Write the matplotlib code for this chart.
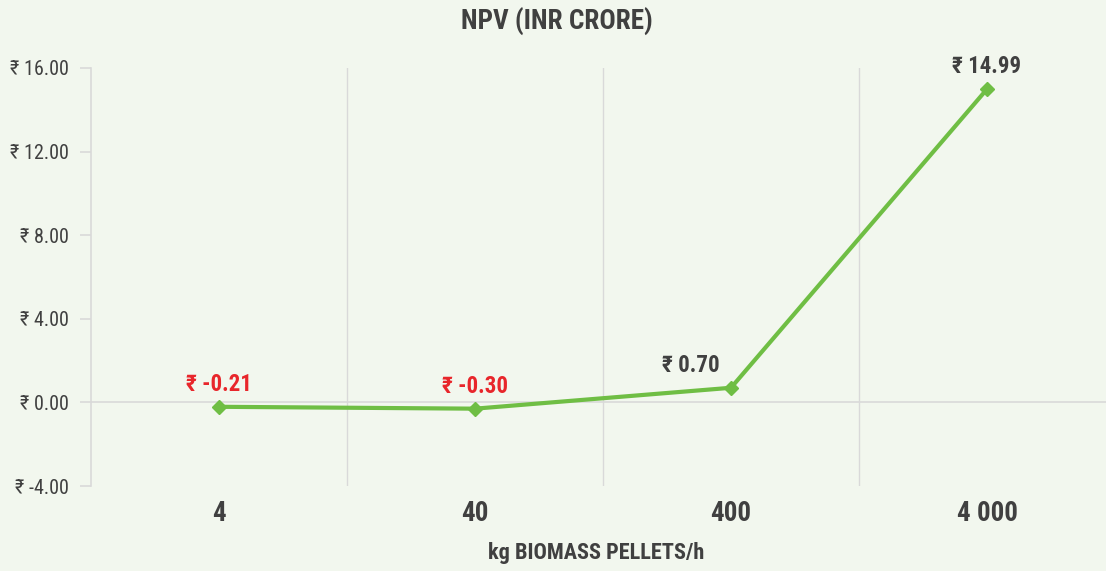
import matplotlib.pyplot as plt
from matplotlib import font_manager

names = {f.name for f in font_manager.fontManager.ttflist}
prefer = ['Roboto Condensed', 'Open Sans Condensed', 'Liberation Sans Narrow',
          'Noto Sans Condensed', 'Roboto']
main = next(n for n in prefer if n in names)
plt.rcParams['font.family'] = [main, 'DejaVu Sans']

categories = ['4', '40', '400', '4 000']
npv = [-0.21, -0.30, 0.70, 14.99]
yticks = [-4, 0, 4, 8, 12, 16]

bg = '#f2f7ee'
dark = '#404040'
green = '#6fbe44'
red = '#e8262b'
grid = '#d9d9d9'

W, H = 1106, 571
fig = plt.figure(figsize=(W / 100, H / 100), dpi=100, facecolor=bg)
# axes area in pixels: x 91..1115, y 68..486
ax = fig.add_axes([91 / W, 1 - 486 / H, (1115 - 91) / W, (486 - 68) / H])
ax.set_facecolor(bg)

x = list(range(len(categories)))
ax.plot(x, npv, color=green, lw=3, marker='D', ms=7, zorder=3)

ax.set_xlim(-0.5, len(categories) - 0.5)
ax.set_ylim(-4, 16)

# gridlines between categories
for b in range(1, len(categories)):
    ax.axvline(b - 0.5, color=grid, lw=1, zorder=1)
ax.axhline(0, color=grid, lw=1.2, zorder=1)

for s in ['top', 'right', 'bottom']:
    ax.spines[s].set_visible(False)
ax.spines['left'].set_color(grid)
ax.spines['left'].set_linewidth(1.2)

ax.set_yticks(yticks)
ax.set_yticklabels([f'₹ {v:.2f}' for v in yticks])
ax.tick_params(axis='y', colors=grid, length=8, width=1.2, pad=8, labelcolor=dark, labelsize=14.5)
ax.set_xticks(x)
ax.set_xticklabels(categories, fontweight='bold', fontsize=19.5, color=dark)
ax.tick_params(axis='x', length=0, pad=10)

for xi, v in zip(x, npv):
    c = red if v < 0 else dark
    if 0 < v < 5:
        # Excel nudged this one to the left of the marker
        ax.annotate(f'₹ {v:.2f}', (xi, v), xytext=(-8, 8), textcoords='offset points',
                    ha='right', va='bottom', fontsize=16.5, fontweight='bold', color=c)
    else:
        ax.annotate(f'₹ {v:.2f}', (xi, v), xytext=(0, 8), textcoords='offset points',
                    ha='center', va='bottom', fontsize=16.5, fontweight='bold', color=c)

fig.text(557 / W, 1 - 22 / H, 'NPV (INR CRORE)', ha='center', va='center',
         fontsize=19.5, fontweight='bold', color=dark)
fig.text(596 / W, 1 - 553 / H, 'kg BIOMASS PELLETS/h', ha='center', va='center',
         fontsize=16, fontweight='bold', color=dark)

fig.savefig('out.png', dpi=100, facecolor=bg)
